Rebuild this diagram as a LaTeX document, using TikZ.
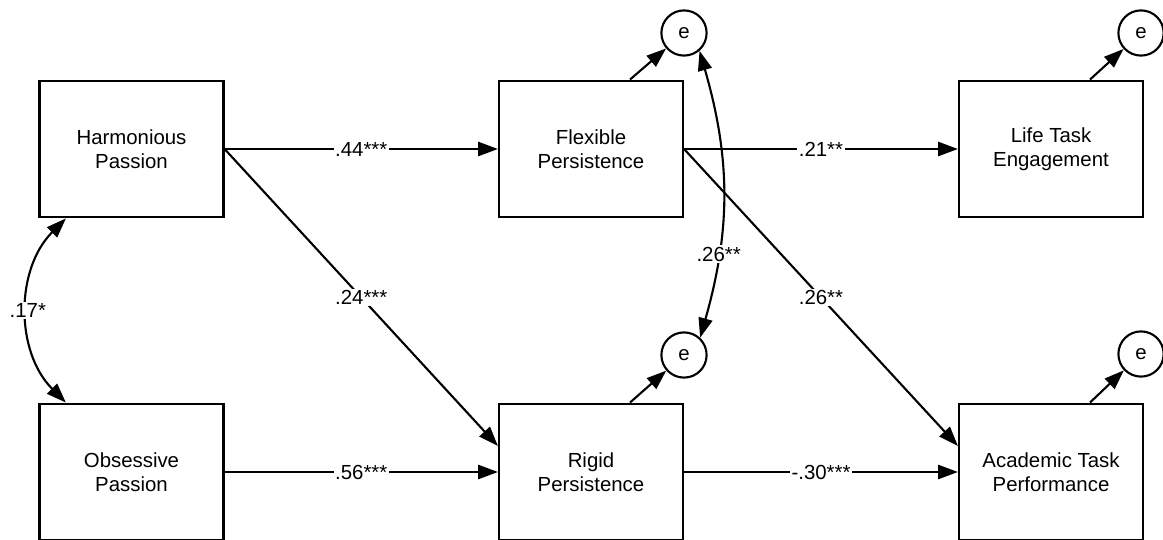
\documentclass[tikz,border=0pt]{standalone}
\usepackage{fontspec}
\setmainfont{Liberation Sans}
\usetikzlibrary{arrows.meta}

\tikzset{
	var/.style = {draw, line width = 1.5pt, minimum width = 4.6cm, minimum height = 3.42cm, align = center, inner sep = 0pt},
	err/.style = {draw, circle, line width = 1.5pt, minimum size = 1.13cm, inner sep = 0pt},
	reg/.style = {line width = 1.5pt, -{Triangle[length = 14pt, width = 10pt]}},
	cov/.style = {line width = 1.5pt, {Triangle[length = 14pt, width = 10pt]}-{Triangle[length = 14pt, width = 10pt]}},
	coef/.style = {fill = white, inner sep = 1pt}
}

\begin{document}
\begin{tikzpicture}[x = 0.025cm, y = -0.025cm, font = \fontsize{14.5}{17.3}\selectfont]
		\useasboundingbox (0,0) rectangle (1163,539);
		\node[var] (hp) at (131.5,149) {Harmonious\\Passion};
		\node[var] (op) at (131.5,472) {Obsessive\\Passion};
		\node[var] (fp) at (591,149) {Flexible\\Persistence};
		\node[var] (rp) at (591,472) {Rigid\\Persistence};
		\node[var] (lte) at (1051,149) {Life Task\\Engagement};
		\node[var] (atp) at (1051,472) {Academic Task\\Performance};
		\node[err] (efp) at (684,33) {e};
		\node[err] (erp) at (684,355) {e};
		\node[err] (elte) at (1141,33) {e};
		\node[err] (eatp) at (1141,354) {e};
		\draw[reg] (hp.east) -- node[coef] {.44***} (fp.west);
		\draw[reg] (fp.east) -- node[coef] {.21**} (lte.west);
		\draw[reg] (op.east) -- node[coef] {.56***} (rp.west);
		\draw[reg] (rp.east) -- node[coef] {-.30***} (atp.west);
		\draw[reg] (hp.east) -- node[coef] {.24***} ([yshift = 0.65cm]rp.west);
		\draw[reg] (fp.east) -- node[coef] {.26**} ([yshift = 0.65cm]atp.west);
		\foreach \v/\e in {fp/efp, rp/erp, lte/elte, atp/eatp}
			\draw[reg] ([xshift = 0.975cm]\v.north) -- (\e);
		\draw[cov] ([xshift = -1.64cm]hp.south) to[bend right = 45] node[coef] {.17*} ([xshift = -1.64cm]op.north);
		\draw[cov] (efp.-49) to[bend left = 16] node[coef, pos = 0.72] {.26**} (erp.47);
	\end{tikzpicture}
\end{document}
